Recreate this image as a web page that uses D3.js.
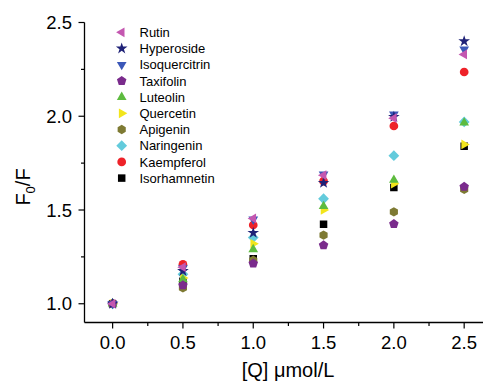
<!DOCTYPE html>
<html>
<head>
<meta charset="utf-8">
<script src="https://cdn.jsdelivr.net/npm/d3@7"></script>
<style>
  body { margin: 0; background: #fff; }
  svg { display: block; overflow: hidden; }
  text { font-family: "Liberation Sans", Arial, sans-serif; fill: #000; }
</style>
</head>
<body>
<div id="chart"></div>
<script>
// concentrations [Q] umol/L
const concentrations = [0, 0.5, 1.0, 1.5, 2.0, 2.5];

// F0/F per compound
const rutin = [1.0, 1.195, 1.455, 1.686, 1.99, 2.33];
const hyperoside = [1.0, 1.175, 1.378, 1.645, 1.997, 2.40];
const isoquercitrin = [1.0, 1.19, 1.45, 1.69, 2.01, 2.357];
const taxifolin = [1.0, 1.099, 1.215, 1.312, 1.425, 1.624];
const luteolin = [1.0, 1.13, 1.29, 1.52, 1.66, 1.965];
const quercetin = [1.0, 1.138, 1.32, 1.50, 1.64, 1.85];
const apigenin = [1.0, 1.085, 1.232, 1.366, 1.49, 1.61];
const naringenin = [1.0, 1.158, 1.353, 1.56, 1.79, 1.97];
const kaempferol = [1.0, 1.21, 1.42, 1.654, 1.948, 2.236];
const isorhamnetin = [1.0, 1.12, 1.24, 1.424, 1.62, 1.84];

const xTicks = [0.0, 0.5, 1.0, 1.5, 2.0, 2.5];
const yTicks = [1.0, 1.5, 2.0, 2.5];

const series = [
  {name: 'Rutin', values: rutin, color: '#c457b0', shape: 'triLeft'},
  {name: 'Hyperoside', values: hyperoside, color: '#1f2277', shape: 'star'},
  {name: 'Isoquercitrin', values: isoquercitrin, color: '#3b57b8', shape: 'triDown'},
  {name: 'Taxifolin', values: taxifolin, color: '#7a2b8c', shape: 'pentagon'},
  {name: 'Luteolin', values: luteolin, color: '#5dbb3f', shape: 'triUp'},
  {name: 'Quercetin', values: quercetin, color: '#f2e51c', shape: 'triRight'},
  {name: 'Apigenin', values: apigenin, color: '#7e7a33', shape: 'hexagon'},
  {name: 'Naringenin', values: naringenin, color: '#63cbdc', shape: 'diamond'},
  {name: 'Kaempferol', values: kaempferol, color: '#ee2229', shape: 'circle'},
  {name: 'Isorhamnetin', values: isorhamnetin, color: '#000000', shape: 'square'}
];

const width = 483, height = 386;

const svg = d3.select('#chart').append('svg')
  .attr('width', width)
  .attr('height', height);

const x = d3.scaleLinear().domain([-0.2, 2.7]).range([84.5, 492.3]);
const y = d3.scaleLinear().domain([0.9, 2.5]).range([322.5, 22.5]);

// polygon path helper, r = radius, rot in degrees
function polygon(n, r, rot) {
  const pts = [];
  for (let i = 0; i < n; i++) {
    const a = (rot + i * 360 / n) * Math.PI / 180;
    pts.push([r * Math.sin(a), -r * Math.cos(a)]);
  }
  return 'M' + pts.map(p => p.join(',')).join('L') + 'Z';
}

function markerPath(shape) {
  switch (shape) {
    case 'triUp': return polygon(3, 5.6, 0);
    case 'triDown': return polygon(3, 5.6, 180);
    case 'triLeft': return polygon(3, 5.6, 270);
    case 'triRight': return polygon(3, 5.6, 90);
    case 'pentagon': return polygon(5, 5, 0);
    case 'hexagon': return polygon(6, 4.7, 0);
    case 'diamond': return polygon(4, 5.4, 0);
    case 'square': return polygon(4, 5.3, 45);
    case 'star': return d3.symbol(d3.symbolStar, 42)();
    default: return d3.symbol(d3.symbolCircle, 60)();
  }
}

// axes lines
const axisColor = '#000';
svg.append('line')
  .attr('x1', x(-0.2)).attr('x2', width)
  .attr('y1', y(0.9)).attr('y2', y(0.9))
  .attr('stroke', axisColor).attr('stroke-width', 1.3);
svg.append('line')
  .attr('x1', x(-0.2)).attr('x2', x(-0.2))
  .attr('y1', y(0.9)).attr('y2', y(2.5))
  .attr('stroke', axisColor).attr('stroke-width', 1.3);

// x ticks (major + minor)
const xMinor = d3.range(0.25, 2.8, 0.5);
svg.append('g').selectAll('line.major').data(xTicks).join('line')
  .attr('x1', d => x(d)).attr('x2', d => x(d))
  .attr('y1', y(0.9)).attr('y2', y(0.9) + 6)
  .attr('stroke', axisColor).attr('stroke-width', 1.2);
svg.append('g').selectAll('line.minor').data(xMinor).join('line')
  .attr('x1', d => x(d)).attr('x2', d => x(d))
  .attr('y1', y(0.9)).attr('y2', y(0.9) + 3.5)
  .attr('stroke', axisColor).attr('stroke-width', 1.2);
svg.append('g').selectAll('text').data(xTicks).join('text')
  .attr('x', d => x(d))
  .attr('y', 349)
  .attr('text-anchor', 'middle')
  .style('font-size', '18.5px')
  .text(d => d3.format('.1f')(d));

// y ticks
const yMinor = [1.25, 1.75, 2.25];
svg.append('g').selectAll('line').data(yTicks).join('line')
  .attr('x1', x(-0.2) - 6).attr('x2', x(-0.2))
  .attr('y1', d => y(d)).attr('y2', d => y(d))
  .attr('stroke', axisColor).attr('stroke-width', 1.2);
svg.append('g').selectAll('line').data(yMinor).join('line')
  .attr('x1', x(-0.2) - 3.5).attr('x2', x(-0.2))
  .attr('y1', d => y(d)).attr('y2', d => y(d))
  .attr('stroke', axisColor).attr('stroke-width', 1.2);
svg.append('g').selectAll('text').data(yTicks).join('text')
  .attr('x', 72)
  .attr('y', d => y(d))
  .attr('dy', '0.36em')
  .attr('text-anchor', 'end')
  .style('font-size', '18.5px')
  .text(d => d3.format('.1f')(d));

// axis titles
svg.append('text')
  .attr('x', 288)
  .attr('y', 377)
  .attr('text-anchor', 'middle')
  .style('font-size', '20px')
  .text('[Q] μmol/L');

const yTitle = svg.append('text')
  .attr('transform', 'translate(30,187) rotate(-90)')
  .attr('text-anchor', 'middle')
  .style('font-size', '20px');
yTitle.append('tspan').text('F');
yTitle.append('tspan').attr('dy', 5).style('font-size', '13px').text('0');
yTitle.append('tspan').attr('dy', -5).text('/F');

// data points, drawn last-to-first so Rutin ends up on top
const points = svg.append('g');
series.slice().reverse().forEach(s => {
  points.selectAll(null).data(s.values).join('path')
    .attr('d', markerPath(s.shape))
    .attr('transform', (d, i) => 'translate(' + x(concentrations[i]) + ',' + y(d) + ')')
    .attr('fill', s.color);
});

// legend
const legend = svg.append('g');
series.forEach((s, i) => {
  const ly = 32.3 + i * 16.2;
  legend.append('path')
    .attr('d', markerPath(s.shape))
    .attr('transform', 'translate(121.7,' + ly + ')')
    .attr('fill', s.color);
  legend.append('text')
    .attr('x', 139.5)
    .attr('y', ly)
    .attr('dy', '0.36em')
    .style('font-size', '13px')
    .text(s.name);
});
</script>
</body>
</html>
